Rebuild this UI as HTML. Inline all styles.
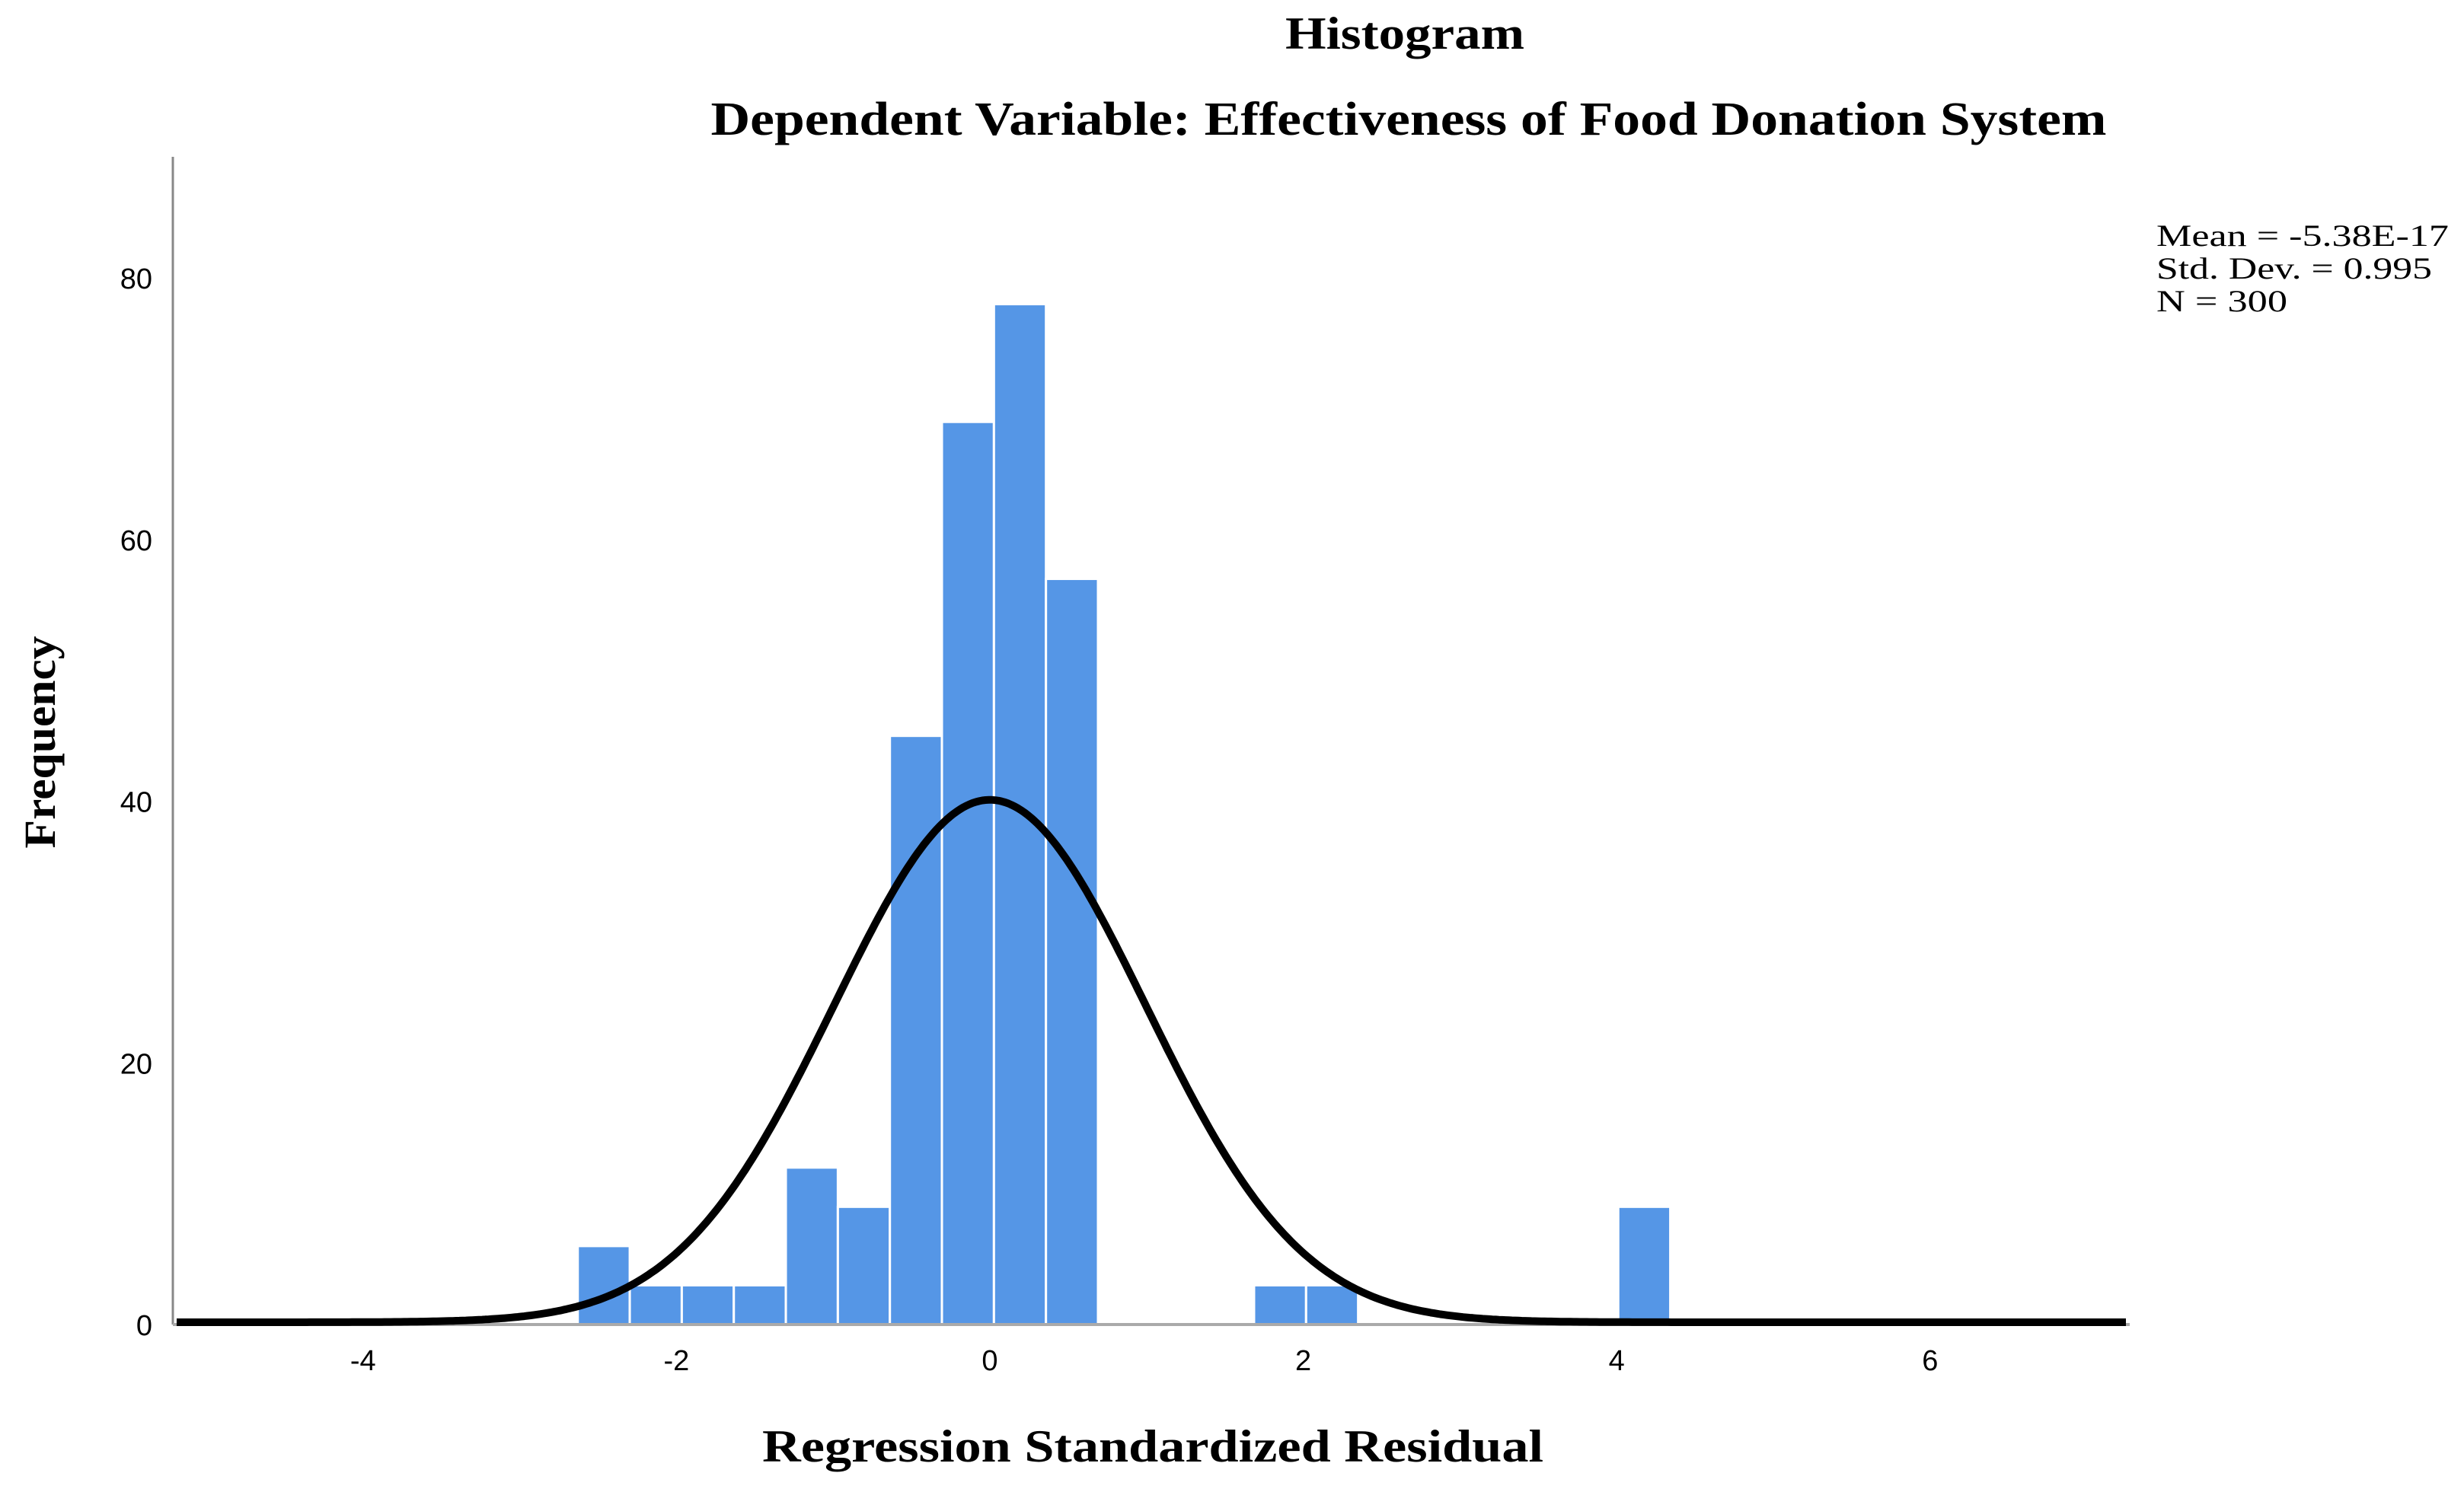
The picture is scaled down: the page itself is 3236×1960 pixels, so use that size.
<!DOCTYPE html>
<html><head><meta charset="utf-8"><style>
html,body{margin:0;padding:0;background:#fff;}
svg{display:block;}
</style></head><body>
<svg id="chart" xmlns="http://www.w3.org/2000/svg" width="3236" height="1960" viewBox="0 0 3236 1960">
<rect width="3236" height="1960" fill="#fff"/>
<text x="1845" y="64" text-anchor="middle" font-family="Liberation Serif, serif" font-weight="bold" font-size="60" textLength="314" lengthAdjust="spacingAndGlyphs">Histogram</text>
<text x="1850" y="177" text-anchor="middle" font-family="Liberation Serif, serif" font-weight="bold" font-size="62" textLength="1833" lengthAdjust="spacingAndGlyphs">Dependent Variable: Effectiveness of  Food Donation System</text>
<g id="stats" font-family="Liberation Serif, serif" font-size="40">
<text x="2832" y="323" textLength="384" lengthAdjust="spacingAndGlyphs">Mean = -5.38E-17</text>
<text x="2832" y="366" textLength="362" lengthAdjust="spacingAndGlyphs">Std. Dev. = 0.995</text>
<text x="2832" y="409" textLength="172" lengthAdjust="spacingAndGlyphs">N = 300</text>
</g>
<g id="bars"></g>
<g id="axes"></g>
<path id="curve" fill="none" stroke="#000" stroke-width="10" stroke-linejoin="round"/>
<text x="1514" y="1920" text-anchor="middle" font-family="Liberation Serif, serif" font-weight="bold" font-size="60" textLength="1026" lengthAdjust="spacingAndGlyphs">Regression Standardized Residual</text>
<text transform="translate(72,975) rotate(-90)" text-anchor="middle" font-family="Liberation Serif, serif" font-weight="bold" font-size="58" textLength="279" lengthAdjust="spacingAndGlyphs">Frequency</text>
</svg>
<script>
const binStart = -2.63;
const binWidth = 0.332;
const binIndex = [0,1,2,3,4,5,6,7,8,9,13,14,20];
const counts = [6,3,3,3,12,9,45,69,78,57,3,3,9];
const xTicks = [-4,-2,0,2,4,6];
const yTicks = [0,20,40,60,80];
const curveMean = 0;
const curveSd = 0.995;
const curveN = 300;

const NS = "http://www.w3.org/2000/svg";
const X0 = 1300, XU = 205.8, Y0 = 1740, YU = 343.7/20;
const xs = v => X0 + v*XU;
const ys = v => Y0 - v*YU;
const bars = document.getElementById('bars');
const axes = document.getElementById('axes');

binIndex.forEach((bi,i)=>{
  const l = binStart + bi*binWidth;
  const r = document.createElementNS(NS,'rect');
  
  
  r.setAttribute('x', xs(l));
  r.setAttribute('y', ys(counts[i]));
  r.setAttribute('width', binWidth*XU);
  r.setAttribute('height', Y0 - ys(counts[i]));
  r.setAttribute('fill','#5596e6');
  r.setAttribute('stroke','#fff');
  r.setAttribute('stroke-width','3');
  bars.appendChild(r);
});

function line(x1,y1,x2,y2,w,c,name){
  const l = document.createElementNS(NS,'line');
  
  
  l.setAttribute('x1',x1);l.setAttribute('y1',y1);l.setAttribute('x2',x2);l.setAttribute('y2',y2);
  l.setAttribute('stroke',c);l.setAttribute('stroke-width',w);
  axes.appendChild(l);
}
line(227,206,227,Y0,3,'#888','y-axis-line');
line(227,Y0,2797,Y0,4,'#aaa','x-axis-line');

xTicks.forEach(t=>{
  const tx = document.createElementNS(NS,'text');
  
  
  tx.setAttribute('x', xs(t));
  tx.setAttribute('y', 1800);
  tx.setAttribute('text-anchor','middle');
  tx.setAttribute('font-family','Liberation Sans, sans-serif');
  tx.setAttribute('font-size','38');
  tx.textContent = t;
  axes.appendChild(tx);
});
yTicks.forEach(t=>{
  const tx = document.createElementNS(NS,'text');
  
  
  tx.setAttribute('x', 200);
  tx.setAttribute('y', ys(t)+14);
  tx.setAttribute('text-anchor','end');
  tx.setAttribute('font-family','Liberation Sans, sans-serif');
  tx.setAttribute('font-size','38');
  tx.textContent = t;
  axes.appendChild(tx);
});

const amp = curveN*binWidth/(curveSd*Math.sqrt(2*Math.PI));
let d = '';
const xmin = (232-X0)/XU, xmax = (2792-X0)/XU;
for(let i=0;i<=600;i++){
  const v = xmin + (xmax-xmin)*i/600;
  const f = amp*Math.exp(-0.5*Math.pow((v-curveMean)/curveSd,2));
  d += (i?'L':'M') + xs(v).toFixed(1) + ',' + (ys(f)-3).toFixed(1);
}
document.getElementById('curve').setAttribute('d', d);
</script>
</body></html>
